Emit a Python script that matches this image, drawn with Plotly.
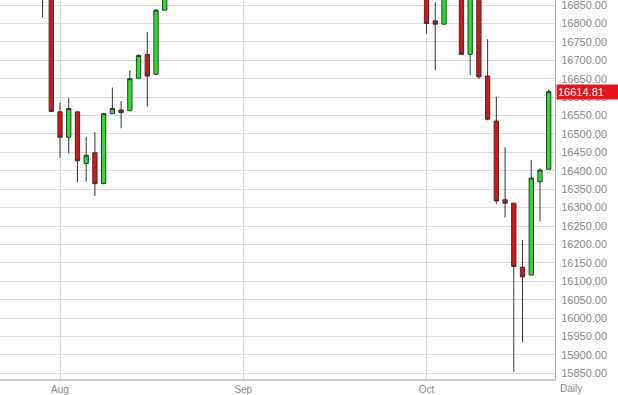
import plotly.graph_objects as go

dates = [
    "2014-07-23", "2014-07-24", "2014-07-25", "2014-07-28", "2014-07-29", "2014-07-30", "2014-07-31",
    "2014-08-01", "2014-08-04", "2014-08-05", "2014-08-06", "2014-08-07", "2014-08-08",
    "2014-08-11", "2014-08-12", "2014-08-13", "2014-08-14", "2014-08-15",
    "2014-08-18", "2014-08-19", "2014-08-20", "2014-08-21", "2014-08-22",
    "2014-08-25", "2014-08-26", "2014-08-27", "2014-08-28", "2014-08-29",
    "2014-09-02", "2014-09-03", "2014-09-04", "2014-09-05",
    "2014-09-08", "2014-09-09", "2014-09-10", "2014-09-11", "2014-09-12",
    "2014-09-15", "2014-09-16", "2014-09-17", "2014-09-18", "2014-09-19",
    "2014-09-22", "2014-09-23", "2014-09-24", "2014-09-25", "2014-09-26",
    "2014-09-29", "2014-09-30",
    "2014-10-01", "2014-10-02", "2014-10-03",
    "2014-10-06", "2014-10-07", "2014-10-08", "2014-10-09", "2014-10-10",
    "2014-10-13", "2014-10-14", "2014-10-15", "2014-10-16", "2014-10-17",
    "2014-10-20", "2014-10-21",
]

open_ = [
    17086, 17087, 17083, 16961, 16982, 16912, 16880,
    16560, 16491, 16560, 16420, 16449, 16365,
    16555, 16565, 16563, 16651, 16716,
    16662, 16836, 16919, 16979, 17039,
    17001, 17076, 17106, 17122, 17079,
    17098, 17067, 17078, 17069,
    17137, 17112, 17014, 17068, 17049,
    16987, 17031, 17131, 17156, 17265,
    17279, 17172, 17056, 17210, 16945,
    17113, 17071,
    17040, 16807, 16798,
    17010, 16991, 16716, 16992, 16657,
    16535, 16321, 16312, 16138, 16117,
    16370, 16404,
]

high = [
    17097, 17150, 17083, 16996, 17007, 16973, 16880,
    16585, 16597, 16560, 16492, 16505, 16555,
    16626, 16589, 16672, 16716, 16776,
    16839, 16933, 16980, 17050, 17040,
    17153, 17135, 17142, 17122, 17119,
    17118, 17160, 17157, 17137,
    17137, 17116, 17070, 17068, 17049,
    17043, 17145, 17222, 17275, 17350,
    17279, 17172, 17218, 17210, 17120,
    17113, 17155,
    17041, 16857, 17027,
    17099, 16991, 17000, 16992, 16757,
    16601, 16464, 16312, 16212, 16429,
    16407, 16621,
]

low = [
    17040, 17057, 16960, 16885, 16912, 16817, 16560,
    16435, 16447, 16368, 16370, 16332, 16365,
    16555, 16515, 16563, 16651, 16574,
    16662, 16836, 16890, 16970, 16971,
    17001, 17071, 17092, 17021, 17031,
    17012, 17067, 17025, 16999,
    17073, 16996, 16992, 16999, 16970,
    16973, 16998, 17103, 17156, 17255,
    17139, 17056, 17019, 16945, 16945,
    16963, 17028,
    16773, 16673, 16798,
    16943, 16716, 16660, 16649, 16537,
    16310, 16273, 15854, 15934, 16117,
    16262, 16404,
]

close = [
    17086, 17083, 16961, 16982, 16912, 16880, 16561,
    16491, 16569, 16427, 16442, 16365, 16555,
    16569, 16558, 16650, 16713, 16657,
    16836, 16919, 16979, 17039, 17001,
    17076, 17106, 17122, 17079, 17098,
    17067, 17078, 17069, 17137,
    17112, 17014, 17068, 17049, 16987,
    17031, 17131, 17156, 17265, 17279,
    17172, 17056, 17210, 16945, 17113,
    17071, 17043,
    16800, 16798, 17009,
    16991, 16716, 16994, 16655, 16540,
    16318, 16312, 16140, 16112, 16380,
    16402, 16614.81,
]

tick_dates = ["2014-08-01", "2014-09-02", "2014-10-01"]
tick_labels = ["Aug", "Sep", "Oct"]
last_price_label = "16614.81"

fig = go.Figure(
    go.Candlestick(
        x=dates, open=open_, high=high, low=low, close=close,
        increasing=dict(fillcolor="#22e622", line=dict(color="#333333", width=1)),
        decreasing=dict(fillcolor="#dd1111", line=dict(color="#333333", width=1)),
        showlegend=False,
    )
)

n_first = dates.index("2014-08-01")
n_last = len(dates) - 1
px_per = 8.725
fig.update_layout(
    width=618, height=395,
    margin=dict(l=0, r=63, t=0, b=16),
    paper_bgcolor="white", plot_bgcolor="white",
    font=dict(family="Liberation Sans, Arial, sans-serif", size=11, color="#888888"),
    xaxis=dict(
        type="category", rangeslider=dict(visible=False),
        range=[n_first - 60 / px_per, n_last + 6.3 / px_per],
        tickmode="array", tickvals=tick_dates, ticktext=tick_labels,
        showgrid=True, gridcolor="#dddddd", gridwidth=1,
        showline=True, linecolor="#cccccc", linewidth=2,
        ticks="", tickfont=dict(size=10, color="#888888"),
        zeroline=False,
    ),
    yaxis=dict(
        side="right", range=[15834.6, 16863.6],
        tick0=15850, dtick=50, tickformat=".2f",
        showgrid=True, gridcolor="#dddddd", gridwidth=1,
        showline=True, linecolor="#aaaaaa", linewidth=1,
        ticks="outside", ticklen=3, tickcolor="rgba(0,0,0,0)",
        tickfont=dict(size=11, color="#888888"),
        ticklabeloverflow="allow",
        zeroline=False,
    ),
    annotations=[
        dict(
            xref="paper", yref="y", x=1, y=close[-1], xanchor="left", yanchor="middle",
            text=last_price_label, showarrow=False, xshift=1,
            bgcolor="#e8141b", font=dict(color="white", size=11),
            width=60, height=12, align="left", borderpad=1,
        ),
        dict(
            xref="paper", yref="paper", x=1, y=0, xanchor="left", yanchor="top",
            text="Daily", showarrow=False, xshift=3, yshift=-2,
            font=dict(color="#888888", size=10),
        ),
    ],
)

fig.write_html("out.html")
